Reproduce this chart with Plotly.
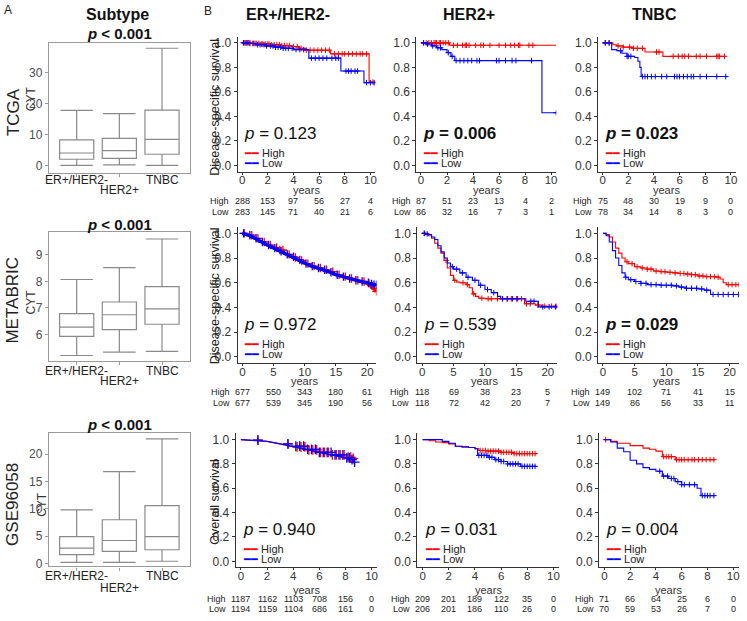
import plotly.graph_objects as go

W, H = 747, 621
FONT = "Liberation Sans, Arial, sans-serif"
RED, BLUE = "#ff0000", "#0000ff"

# ---------------- panel A: CYT by subtype (box statistics)
subtypes = ["ER+/HER2-", "HER2+", "TNBC"]

tcga_lo = [0.1, 0.3, 0.1]
tcga_q1 = [2.1, 2.4, 3.7]
tcga_med = [4.1, 4.9, 8.5]
tcga_q3 = [8.3, 8.8, 17.9]
tcga_hi = [17.8, 16.8, 37.8]

metabric_lo = [5.2, 5.33, 5.36]
metabric_q1 = [5.92, 6.18, 6.38]
metabric_med = [6.27, 6.74, 6.96]
metabric_q3 = [6.78, 7.22, 7.8]
metabric_hi = [8.07, 8.52, 9.6]

gse_lo = [0.2, 0.2, 0.4]
gse_q1 = [1.6, 2.2, 2.5]
gse_med = [2.8, 4.2, 4.9]
gse_q3 = [4.9, 8.0, 10.6]
gse_hi = [9.8, 16.8, 22.8]

# ---------------- panel B: Kaplan-Meier curves (steps + censor times)
# TCGA, disease-specific survival
tcga_er_hi_t = [0, 0.8, 1.5, 2.2, 3.0, 3.8, 4.4, 5.0, 6.9, 9.9, 10.3]
tcga_er_hi_s = [1.0, 0.995, 0.99, 0.985, 0.978, 0.97, 0.955, 0.94, 0.91, 0.68, 0.68]
tcga_er_hi_c = [0.1, 0.2, 0.3, 0.5, 0.6, 0.8, 1.0, 1.1, 1.3, 1.5, 1.6, 1.8, 2.0, 2.1, 2.3, 2.5,
                2.7, 2.9, 3.1, 3.3, 3.5, 3.7, 4.0, 4.3, 4.6, 5.0, 5.3, 5.6, 5.9, 6.2, 6.5, 6.8,
                7.2, 7.5, 7.8, 8.0, 8.3, 8.6, 8.9, 9.2, 9.4, 9.7, 10.2]
tcga_er_lo_t = [0, 0.5, 1.0, 1.8, 2.5, 3.2, 4.0, 5.2, 7.7, 9.5, 10.3]
tcga_er_lo_s = [1.0, 0.995, 0.985, 0.975, 0.965, 0.955, 0.945, 0.875, 0.77, 0.675, 0.675]
tcga_er_lo_c = [0.1, 0.3, 0.4, 0.6, 0.9, 1.2, 1.4, 1.7, 1.9, 2.2, 2.4, 2.6, 2.8, 3.0, 3.2, 3.4,
                3.6, 3.9, 4.2, 4.5, 4.8, 5.4, 5.7, 6.0, 6.3, 6.6, 7.0, 7.3, 7.5, 8.1, 8.3, 8.5,
                8.8, 9.0, 9.7, 10.0, 10.3]

tcga_her2_hi_t = [0, 2.2, 10.4]
tcga_her2_hi_s = [1.0, 0.98, 0.98]
tcga_her2_hi_c = [0.2, 0.4, 0.6, 0.8, 1.0, 1.1, 1.2, 1.4, 1.5, 1.7, 1.9, 2.1, 2.5, 2.8, 3.2,
                  3.4, 3.5, 3.7, 4.2, 4.6, 4.8, 5.3, 6.0, 6.5, 6.9, 7.2, 7.5, 7.6, 8.3, 8.6]
tcga_her2_lo_t = [0, 0.4, 0.8, 1.2, 1.6, 2.0, 2.3, 2.6, 9.3, 10.4]
tcga_her2_lo_s = [1.0, 0.99, 0.975, 0.96, 0.945, 0.92, 0.89, 0.855, 0.43, 0.43]
tcga_her2_lo_c = [0.2, 0.5, 0.9, 1.3, 1.5, 2.1, 2.4, 2.7, 3.0, 3.3, 3.6, 3.9, 4.3, 4.5, 5.8,
                  6.0, 6.5, 7.0, 7.3, 8.5, 10.4]

tcga_tn_hi_t = [0, 0.8, 1.1, 1.6, 2.3, 3.3, 4.7, 9.6]
tcga_tn_hi_s = [1.0, 0.985, 0.975, 0.965, 0.955, 0.925, 0.89, 0.89]
tcga_tn_hi_c = [0.2, 0.5, 1.2, 1.6, 2.1, 2.4, 2.7, 3.1, 4.2, 4.4, 5.5, 5.9, 6.2, 6.4, 6.7, 7.3,
                7.6, 8.1, 8.9, 9.0, 9.1, 9.5]
tcga_tn_lo_t = [0, 0.7, 1.1, 1.5, 1.9, 2.5, 2.75, 2.9, 3.0, 9.6]
tcga_tn_lo_s = [1.0, 0.945, 0.935, 0.915, 0.89, 0.88, 0.85, 0.80, 0.725, 0.725]
tcga_tn_lo_c = [0.2, 0.5, 1.4, 1.9, 2.0, 2.2, 3.1, 3.3, 3.5, 3.8, 4.1, 4.6, 5.0, 5.6, 5.8, 6.0,
                6.3, 6.6, 6.9, 7.1, 7.6, 8.1, 8.9, 9.6]

# METABRIC, disease-specific survival
met_er_hi_t = [0, 1, 2, 3, 4, 5, 6, 7, 8, 9, 10, 11, 12, 13, 14, 15, 16, 17, 18, 19, 20, 20.5, 21, 21.5]
met_er_hi_s = [1.0, 0.985, 0.96, 0.93, 0.905, 0.885, 0.865, 0.83, 0.805, 0.78, 0.755, 0.735, 0.72,
               0.705, 0.69, 0.665, 0.65, 0.635, 0.62, 0.61, 0.595, 0.575, 0.555, 0.53]
met_er_hi_c = [0.3, 1.5, 2.5, 3.5, 4.5, 5.5, 6.0, 6.5, 7.5, 8.5, 9.5, 10.5, 11.5, 12.5, 13.5, 14.5,
               15.5, 16.5, 17.5, 18.5, 19.5, 20.3, 20.8, 21.2, 21.5]
met_er_lo_t = [0, 1, 2, 3, 4, 5, 6, 7, 8, 9, 10, 11, 12, 13, 14, 15, 16, 17, 18, 19, 20, 20.5, 21, 21.5]
met_er_lo_s = [1.0, 0.985, 0.96, 0.93, 0.905, 0.88, 0.855, 0.83, 0.81, 0.785, 0.755, 0.735, 0.72,
               0.705, 0.685, 0.665, 0.65, 0.635, 0.62, 0.61, 0.60, 0.59, 0.585, 0.585]
met_er_lo_c = [0.2, 1.2, 2.2, 3.2, 4.2, 5.2, 6.2, 7.2, 8.2, 9.2, 10.2, 11.2, 12.2, 13.2, 14.2, 15.2,
               16.2, 17.2, 18.2, 19.2, 20.2, 20.7, 21.1, 21.5]

met_her2_hi_t = [0, 0.5, 1, 1.5, 2, 2.5, 3, 3.5, 4, 4.5, 5, 5.5, 6, 7, 7.5, 8, 8.5, 9, 10, 16.3, 18, 19, 21.5]
met_her2_hi_s = [1.0, 0.995, 0.98, 0.96, 0.92, 0.88, 0.84, 0.78, 0.72, 0.66, 0.62, 0.605, 0.60, 0.585,
                 0.56, 0.51, 0.49, 0.475, 0.47, 0.43, 0.42, 0.41, 0.405]
met_her2_hi_c = [0.3, 3.8, 5.2, 6.5, 7.2, 8.2, 9.5, 10.5, 11.0, 12.0, 12.8, 13.5, 14.2, 15.0, 15.8,
                 16.6, 17.2, 18.4, 19.5, 20.6, 21.3]
met_her2_lo_t = [0, 0.5, 1, 1.5, 2, 2.5, 3, 3.5, 4, 4.5, 5, 6, 7, 8, 9, 10, 11, 12, 12.5, 16, 16.5, 18.5, 21.5]
met_her2_lo_s = [1.0, 0.995, 0.99, 0.97, 0.95, 0.90, 0.85, 0.80, 0.76, 0.73, 0.71, 0.68, 0.645, 0.62,
                 0.58, 0.545, 0.52, 0.49, 0.47, 0.47, 0.45, 0.405, 0.395]
met_her2_lo_c = [0.4, 0.8, 4.8, 5.5, 6.4, 7.3, 8.4, 9.3, 10.4, 11.4, 12.8, 13.6, 14.4, 15.2, 17.3,
                 17.8, 19.2, 20.2, 21.2]

met_tn_hi_t = [0, 0.5, 1, 1.5, 2, 2.5, 3, 3.5, 4, 5, 6, 7, 8, 9, 10, 11, 12, 13, 14, 15, 16, 18,
               18.5, 19, 19.5, 21.5]
met_tn_hi_s = [1.0, 0.99, 0.97, 0.93, 0.88, 0.84, 0.80, 0.77, 0.755, 0.73, 0.72, 0.71, 0.695, 0.69,
               0.685, 0.68, 0.675, 0.67, 0.665, 0.655, 0.65, 0.645, 0.63, 0.60, 0.585, 0.585]
met_tn_hi_c = [3.8, 4.6, 5.4, 6.2, 7.0, 7.6, 8.4, 9.2, 9.8, 10.6, 11.4, 12.2, 12.8, 13.4, 14.0,
               14.6, 15.2, 15.8, 16.4, 17.0, 17.6, 18.2, 19.8, 20.4, 21.0, 21.5]
met_tn_lo_t = [0, 0.5, 1, 1.5, 2, 2.5, 3, 3.5, 4, 5, 6, 7, 9, 11, 12, 13, 15, 16, 17, 21.5]
met_tn_lo_s = [1.0, 0.98, 0.93, 0.86, 0.80, 0.74, 0.68, 0.645, 0.625, 0.61, 0.595, 0.585, 0.58,
               0.575, 0.565, 0.555, 0.55, 0.54, 0.505, 0.505]
met_tn_lo_c = [3.6, 4.4, 5.2, 6.0, 6.8, 7.6, 8.4, 9.2, 10.0, 10.8, 11.6, 12.4, 13.2, 14.0, 14.8,
               15.6, 16.4, 17.4, 18.2, 19.0, 19.8, 20.6, 21.4]

# GSE96058, overall survival
gse_er_hi_t = [0, 1, 2, 3, 4, 5, 6, 7, 8, 8.5, 8.7]
gse_er_hi_s = [1.0, 0.995, 0.985, 0.965, 0.94, 0.915, 0.895, 0.875, 0.855, 0.845, 0.79]
gse_er_hi_c = [1.3, 3.6, 4.3, 4.6, 4.9, 5.2, 5.5, 5.8, 6.1, 6.4, 6.7, 7.0, 7.3, 7.6, 7.9, 8.2,
               8.4, 8.6]
gse_er_lo_t = [0, 1, 2, 3, 4, 5, 6, 7, 8, 8.5, 8.7]
gse_er_lo_s = [1.0, 0.995, 0.985, 0.965, 0.945, 0.92, 0.895, 0.875, 0.85, 0.835, 0.815]
gse_er_lo_c = [1.3, 3.6, 4.2, 4.5, 4.8, 5.1, 5.4, 5.7, 6.0, 6.3, 6.6, 6.9, 7.2, 7.5, 7.8, 8.1,
               8.3, 8.5, 8.7]

gse_her2_hi_t = [0, 0.5, 1, 1.5, 2, 2.5, 3, 3.5, 4, 4.3, 5, 6, 7, 8.7]
gse_her2_hi_s = [1.0, 0.99, 0.98, 0.975, 0.965, 0.945, 0.94, 0.935, 0.925, 0.91, 0.905, 0.895,
                 0.885, 0.885]
gse_her2_hi_c = [4.4, 4.6, 4.8, 5.0, 5.2, 5.4, 5.6, 5.8, 6.0, 6.2, 6.4, 6.6, 6.8, 7.0, 7.2, 7.4,
                 7.6, 7.8, 8.0, 8.2, 8.4, 8.6]
gse_her2_lo_t = [0, 1, 1.5, 2, 2.5, 3, 3.5, 4, 4.2, 5, 5.5, 6, 6.5, 7.5, 8.7]
gse_her2_lo_s = [1.0, 1.0, 0.985, 0.97, 0.945, 0.94, 0.935, 0.925, 0.87, 0.855, 0.835, 0.82, 0.80,
                 0.78, 0.78]
gse_her2_lo_c = [4.3, 4.5, 4.7, 4.9, 5.1, 5.3, 5.6, 5.8, 6.0, 6.2, 6.5, 6.7, 6.9, 7.1, 7.3, 7.6,
                 7.8, 8.0, 8.2, 8.4, 8.6]

gse_tn_hi_t = [0, 0.5, 1, 2, 3, 3.5, 4, 4.5, 5.5, 8.6]
gse_tn_hi_s = [1.0, 0.985, 0.97, 0.95, 0.93, 0.92, 0.905, 0.86, 0.835, 0.835]
gse_tn_hi_c = [0.1, 4.6, 4.8, 5.0, 5.2, 5.6, 5.8, 6.0, 6.2, 6.5, 6.8, 7.0, 7.3, 7.6, 7.9, 8.2, 8.5]
gse_tn_lo_t = [0, 0.5, 1, 1.5, 2, 2.5, 3, 3.5, 4, 4.5, 5, 5.5, 6, 7.2, 7.5, 8.6]
gse_tn_lo_s = [1.0, 0.98, 0.93, 0.90, 0.83, 0.80, 0.77, 0.755, 0.74, 0.70, 0.68, 0.655, 0.63, 0.60,
               0.54, 0.54]
gse_tn_lo_c = [4.3, 4.6, 4.9, 5.2, 5.4, 5.7, 6.0, 6.2, 6.6, 7.0, 7.6, 7.8, 8.0, 8.2, 8.5]

# numbers at risk
tcga_er_risk_hi = [288, 153, 97, 56, 27, 4]
tcga_er_risk_lo = [283, 145, 71, 40, 21, 6]
tcga_her2_risk_hi = [87, 51, 23, 13, 4, 2]
tcga_her2_risk_lo = [86, 32, 16, 7, 3, 1]
tcga_tn_risk_hi = [75, 48, 30, 19, 9, 0]
tcga_tn_risk_lo = [78, 34, 14, 8, 3, 0]
met_er_risk_hi = [677, 550, 343, 180, 61]
met_er_risk_lo = [677, 539, 345, 190, 56]
met_her2_risk_hi = [118, 69, 38, 23, 5]
met_her2_risk_lo = [118, 72, 42, 20, 7]
met_tn_risk_hi = [149, 102, 71, 41, 15]
met_tn_risk_lo = [149, 86, 56, 33, 11]
gse_er_risk_hi = [1187, 1162, 1103, 708, 156, 0]
gse_er_risk_lo = [1194, 1159, 1104, 686, 161, 0]
gse_her2_risk_hi = [209, 201, 189, 122, 35, 0]
gse_her2_risk_lo = [206, 201, 186, 110, 26, 0]
gse_tn_risk_hi = [71, 66, 64, 25, 6, 0]
gse_tn_risk_lo = [70, 59, 53, 26, 7, 0]

p_values = [["0.123", "0.006", "0.023"], ["0.972", "0.539", "0.029"], ["0.940", "0.031", "0.004"]]
p_bold = [[False, True, True], [False, False, True], [False, False, False]]
col_titles = ["ER+/HER2-", "HER2+", "TNBC"]
y_titles = ["Disease-specific survival", "Disease-specific survival", "Overall survival"]


def px_x(v):
    return v / W


def px_y(v):
    return 1 - v / H


def step_at(ts, ss, t):
    val = ss[0]
    for ti, si in zip(ts, ss):
        if ti <= t:
            val = si
    return val


fig = go.Figure()
annotations = []
layout = dict(
    width=W, height=H, autosize=False,
    margin=dict(l=0, r=0, t=0, b=0),
    paper_bgcolor="white", plot_bgcolor="white",
    showlegend=False,
    font=dict(family=FONT, color="#222"),
)


def ann(text, x, y, size=12, color="#222", xref="paper", yref="paper", angle=0,
        xanchor="center", yanchor="middle", xshift=0):
    annotations.append(dict(text=text, x=x, y=y, xref=xref, yref=yref, showarrow=False,
                            textangle=angle, xanchor=xanchor, yanchor=yanchor, xshift=xshift,
                            font=dict(size=size, color=color, family=FONT)))


# ---------------- panel A
box_sets = [
    ("TCGA", tcga_lo, tcga_q1, tcga_med, tcga_q3, tcga_hi, [-2.2, 39.6], [0, 10, 20, 30]),
    ("METABRIC", metabric_lo, metabric_q1, metabric_med, metabric_q3, metabric_hi, [4.99, 9.86], [6, 7, 8, 9]),
    ("GSE96058", gse_lo, gse_q1, gse_med, gse_q3, gse_hi, [-0.55, 23.8], [0, 5, 10, 15, 20]),
]
box_rows = [(42, 173), (233, 363), (436, 570)]
box_p_y = [33, 225, 427]
cohort_y = [112, 301, 507]
cyt_xy = [(31, 98), (31, 303), (42, 507)]
cat_y = [(180, 191), (373, 383), (580, 592)]

for i, (name, lo, q1, med, q3, hi, yr, yt) in enumerate(box_sets):
    n = i + 1
    xa, ya = ("x" if n == 1 else f"x{n}"), ("y" if n == 1 else f"y{n}")
    fig.add_trace(go.Box(
        x=subtypes, lowerfence=lo, q1=q1, median=med, q3=q3, upperfence=hi,
        xaxis=xa, yaxis=ya, boxpoints=False, width=0.8, whiskerwidth=0.95,
        fillcolor="white", line=dict(color="#8a8a8a", width=1.2),
    ))
    top, bot = box_rows[i]
    layout["xaxis" if n == 1 else f"xaxis{n}"] = dict(
        domain=[px_x(49), px_x(190)], anchor=ya, range=[-0.65, 2.65], type="category",
        showline=True, mirror=True, linecolor="#9a9a9a", linewidth=1.2,
        ticks="outside", ticklen=3, tickcolor="#9a9a9a", showticklabels=False,
        showgrid=False, zeroline=False, fixedrange=True)
    layout["yaxis" if n == 1 else f"yaxis{n}"] = dict(
        domain=[px_y(bot), px_y(top)], anchor=xa, range=yr, tickvals=yt,
        showline=True, mirror=True, linecolor="#9a9a9a", linewidth=1.2,
        ticks="outside", ticklen=3, tickcolor="#9a9a9a",
        tickfont=dict(size=12, color="#4d4d4d", family=FONT),
        showgrid=False, zeroline=False)
    ann("<b><i>p</i> &lt; 0.001</b>", px_x(120), px_y(box_p_y[i]), size=15, color="#111")
    ann(name, px_x(13), px_y(cohort_y[i]), size=17, angle=-90)
    ann("CYT", px_x(cyt_xy[i][0]), px_y(cyt_xy[i][1]), size=12, color="#333", angle=-90)
    ann(subtypes[0], 0, px_y(cat_y[i][0]), size=12, xref=xa)
    ann(subtypes[1], 1, px_y(cat_y[i][1]), size=12, xref=xa)
    ann(subtypes[2], 2, px_y(cat_y[i][0]), size=12, xref=xa)

ann("A", px_x(8), px_y(9), size=12)
ann("B", px_x(208), px_y(10), size=12)
ann("<b>Subtype</b>", px_x(118), px_y(14), size=16, color="#111")
for x, t in zip([288, 470, 655], col_titles):
    ann(f"<b>{t}</b>", px_x(x), px_y(14), size=16, color="#111")

# ---------------- panel B
km_curves = [
    [((tcga_er_hi_t, tcga_er_hi_s, tcga_er_hi_c), (tcga_er_lo_t, tcga_er_lo_s, tcga_er_lo_c), tcga_er_risk_hi, tcga_er_risk_lo),
     ((tcga_her2_hi_t, tcga_her2_hi_s, tcga_her2_hi_c), (tcga_her2_lo_t, tcga_her2_lo_s, tcga_her2_lo_c), tcga_her2_risk_hi, tcga_her2_risk_lo),
     ((tcga_tn_hi_t, tcga_tn_hi_s, tcga_tn_hi_c), (tcga_tn_lo_t, tcga_tn_lo_s, tcga_tn_lo_c), tcga_tn_risk_hi, tcga_tn_risk_lo)],
    [((met_er_hi_t, met_er_hi_s, met_er_hi_c), (met_er_lo_t, met_er_lo_s, met_er_lo_c), met_er_risk_hi, met_er_risk_lo),
     ((met_her2_hi_t, met_her2_hi_s, met_her2_hi_c), (met_her2_lo_t, met_her2_lo_s, met_her2_lo_c), met_her2_risk_hi, met_her2_risk_lo),
     ((met_tn_hi_t, met_tn_hi_s, met_tn_hi_c), (met_tn_lo_t, met_tn_lo_s, met_tn_lo_c), met_tn_risk_hi, met_tn_risk_lo)],
    [((gse_er_hi_t, gse_er_hi_s, gse_er_hi_c), (gse_er_lo_t, gse_er_lo_s, gse_er_lo_c), gse_er_risk_hi, gse_er_risk_lo),
     ((gse_her2_hi_t, gse_her2_hi_s, gse_her2_hi_c), (gse_her2_lo_t, gse_her2_lo_s, gse_her2_lo_c), gse_her2_risk_hi, gse_her2_risk_lo),
     ((gse_tn_hi_t, gse_tn_hi_s, gse_tn_hi_c), (gse_tn_lo_t, gse_tn_lo_s, gse_tn_lo_c), gse_tn_risk_hi, gse_tn_risk_lo)],
]
km_rows = [
    dict(top=36, bottom=172, hi_y=202, lo_y=213, years_y=191, yt_y=107,
         ticks=[0, 2, 4, 6, 8, 10], xr=[-0.35, 10.4], cols=[(238, 376), (417, 557), (599, 737)]),
    dict(top=228, bottom=365, hi_y=394, lo_y=405, years_y=383, yt_y=297,
         ticks=[0, 5, 10, 15, 20], xr=[-0.75, 21.5], cols=[(238, 377), (418, 558), (599, 740)]),
    dict(top=436, bottom=571, hi_y=603, lo_y=613, years_y=594, yt_y=505,
         ticks=[0, 2, 4, 6, 8, 10], xr=[-0.4, 10.45], cols=[(236, 378), (418, 560), (600, 740)]),
]
# (line width, censor marker size) for the crowded cohorts
heavy = {(1, 0): (3.2, 6), (2, 0): (1.2, 7)}

n = 3
for r, geo in enumerate(km_rows):
    for c in range(3):
        n += 1
        xa, ya = f"x{n}", f"y{n}"
        hi, lo, risk_hi, risk_lo = km_curves[r][c]
        lw, ms = heavy.get((r, c), (1.1, 4))
        for (t, s, cens), color in ((hi, RED), (lo, BLUE)):
            fig.add_trace(go.Scatter(
                x=t, y=s, xaxis=xa, yaxis=ya, mode="lines",
                line=dict(color=color, width=lw,
                          shape="linear" if (r, c) in heavy else "hv"),
                hoverinfo="skip"))
            fig.add_trace(go.Scatter(
                x=cens, y=[step_at(t, s, v) for v in cens], xaxis=xa, yaxis=ya,
                mode="markers",
                marker=dict(symbol="cross-thin", size=ms,
                            line=dict(color=color, width=1.3 if ms > 4 else 1)),
                hoverinfo="skip"))
        x0, x1 = geo["cols"][c]
        layout[f"xaxis{n}"] = dict(
            domain=[px_x(x0), px_x(x1)], anchor=ya, range=geo["xr"], tickvals=geo["ticks"],
            showline=True, linecolor="#333", linewidth=1, ticks="outside", ticklen=2,
            ticklabelstandoff=-4,
            tickcolor="#333", tickfont=dict(size=11.5, color="#333", family=FONT),
            showgrid=False, zeroline=False)
        layout[f"yaxis{n}"] = dict(
            domain=[px_y(geo["bottom"]), px_y(geo["top"])], anchor=xa, range=[-0.05, 1.05],
            tickvals=[0, 0.2, 0.4, 0.6, 0.8, 1.0], tickformat=".1f",
            showline=True, linecolor="#333", linewidth=1, ticks="outside", ticklen=3,
            tickcolor="#333", tickfont=dict(size=12, color="#333", family=FONT),
            showgrid=False, zeroline=False)
        ptxt = f"<i>p</i> = {p_values[r][c]}"
        if p_bold[r][c]:
            ptxt = f"<b>{ptxt}</b>"
        ann(ptxt, 0, 0.26, size=17, color="#111", xref=xa, yref=ya, xanchor="left")
        ann(f'<span style="color:{RED}">━━</span> High', 0, 0.105, size=11, xref=xa, yref=ya, xanchor="left")
        ann(f'<span style="color:{BLUE}">━━</span> Low', 0, 0.02, size=11, xref=xa, yref=ya, xanchor="left")
        mid = (geo["ticks"][0] + geo["ticks"][-1]) / 2
        ann("years", mid, px_y(geo["years_y"]), size=11, color="#333", xref=xa)
        for tv, vh, vl in zip(geo["ticks"], risk_hi, risk_lo):
            ann(str(vh), tv, px_y(geo["hi_y"]), size=9, xref=xa)
            ann(str(vl), tv, px_y(geo["lo_y"]), size=9, xref=xa)
        gap = -(2.6 * max(len(str(risk_hi[0])), len(str(risk_lo[0]))) + 3)
        ann("High", 0, px_y(geo["hi_y"]), size=9, xref=xa, xanchor="right", xshift=gap)
        ann("Low", 0, px_y(geo["lo_y"]), size=9, xref=xa, xanchor="right", xshift=gap)
    ann(y_titles[r], px_x(215), px_y(geo["yt_y"]), size=12.5, color="#222", angle=-90)

layout["annotations"] = annotations
fig.update_layout(**layout)
# the page body has a default 8px margin; drop it so the figure fills the window
fig.write_html("out.html", config={"displayModeBar": False},
               post_script="document.body.style.margin='0';")
